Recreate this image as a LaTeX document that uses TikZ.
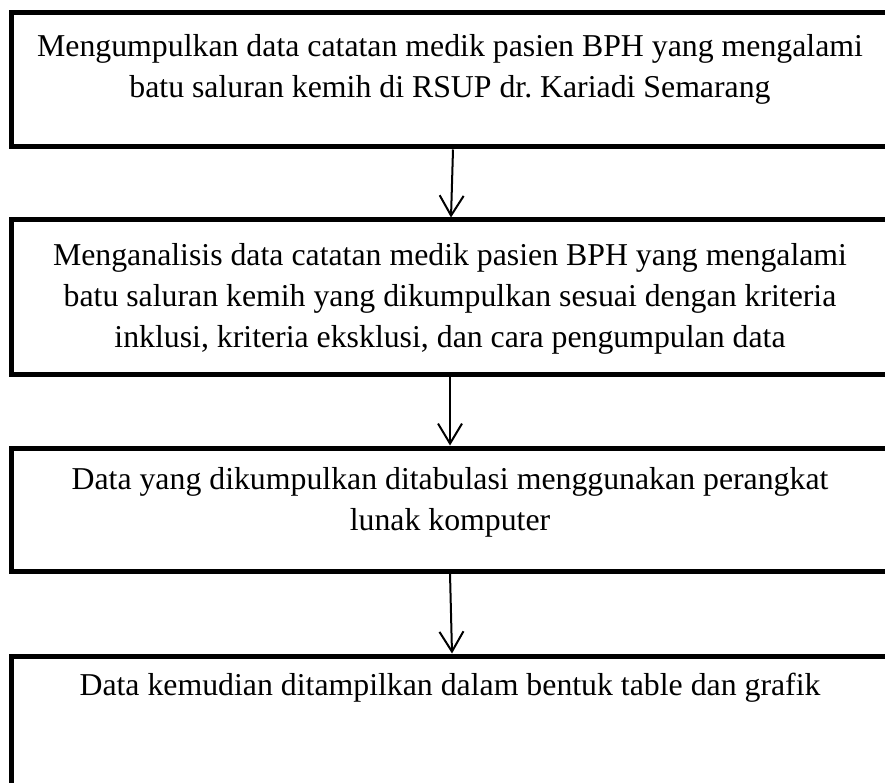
\documentclass[tikz,border=0pt]{standalone}
\usepackage{fontspec}
\setmainfont{Liberation Serif}
\usetikzlibrary{arrows.meta}

\tikzset{
  kotak/.style={draw=black, line width=5pt, rectangle, inner sep=0pt, minimum width=920pt},
  teks/.style={align=center, font=\fontsize{31.8}{41}\selectfont, inner sep=0pt},
  panah/.style={line width=2pt, -{Straight Barb[length=20pt,width=24pt,line width=2pt]}}
}

\begin{document}
\begin{tikzpicture}[x=1pt,y=-1pt]
\useasboundingbox (0,0) rectangle (885,783);
\clip (0,0) rectangle (885,783);

% kotak alur
\node[kotak, minimum height=134pt] (k1) at (471,80) {};
\node[kotak, minimum height=154pt] (k2) at (471,297) {};
\node[kotak, minimum height=123pt] (k3) at (471,509.5) {};
\node[kotak, minimum height=144pt] (k4) at (471,728) {};

% isi teks
\node[teks] (t1) at (450,69) {Mengumpulkan data catatan medik pasien BPH yang mengalami\\batu saluran kemih di RSUP dr.\ Kariadi Semarang};
\node[teks] (t2) at (450,299) {Menganalisis data catatan medik pasien BPH yang mengalami\\batu saluran kemih yang dikumpulkan sesuai dengan kriteria\\inklusi, kriteria eksklusi, dan cara pengumpulan data};
\node[teks] (t3) at (450,502) {Data yang dikumpulkan ditabulasi menggunakan perangkat\\lunak komputer};
\node[teks] (t4) at (450,688) {Data kemudian ditampilkan dalam bentuk table dan grafik};

% panah
\draw[panah] ([xshift=-18pt]k1.south) -- ([xshift=-20pt]k2.north);
\draw[panah] ([xshift=-21pt]k2.south) -- ([xshift=-21pt]k3.north);
\draw[panah] ([xshift=-21pt]k3.south) -- ([xshift=-19pt]k4.north);

\end{tikzpicture}
\end{document}
